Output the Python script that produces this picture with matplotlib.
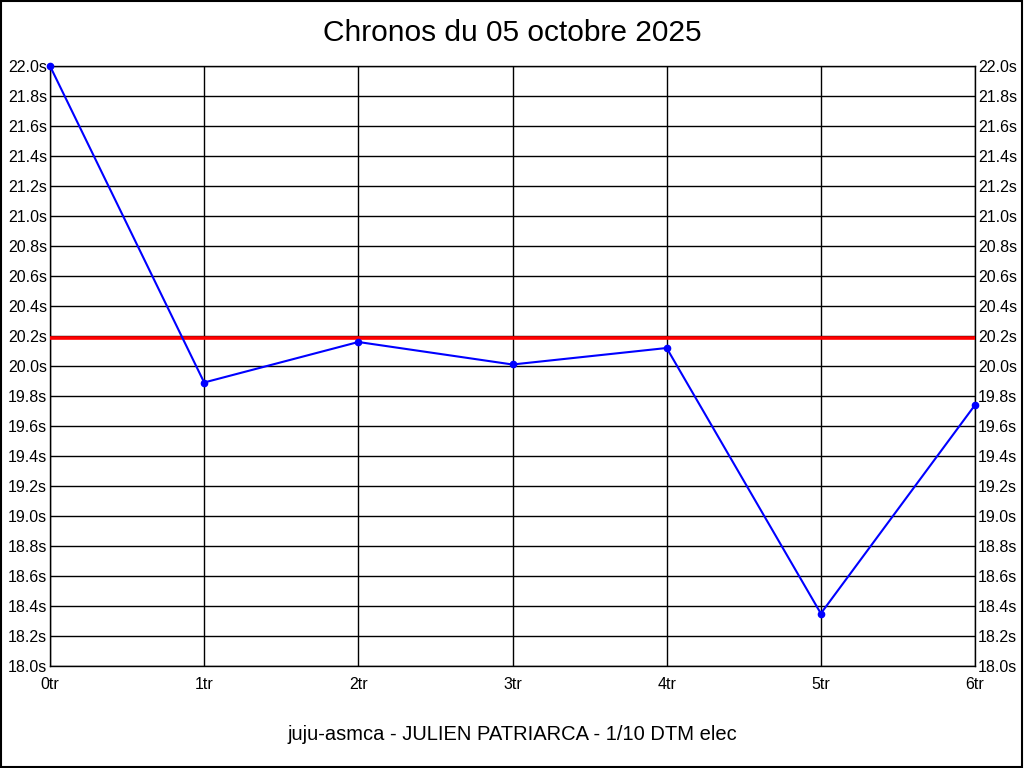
import matplotlib
matplotlib.use("Agg")
import matplotlib.pyplot as plt
from matplotlib.patches import Rectangle

plt.rcParams["font.family"] = ["Liberation Sans", "DejaVu Sans"]

# Donnees
tours = ["0tr", "1tr", "2tr", "3tr", "4tr", "5tr", "6tr"]
chronos = [22.0, 19.89, 20.16, 20.01, 20.12, 18.35, 19.74]
reference = 20.19
graduations = [18.0 + 0.2 * i for i in range(21)]
etiquettes = [f"{v:.1f}s" for v in graduations]

titre = "Chronos du 05 octobre 2025"
pied = "juju-asmca - JULIEN PATRIARCA - 1/10 DTM elec"

fig = plt.figure(figsize=(10.24, 7.68), dpi=100)
fig.patch.set_facecolor("white")
ax = fig.add_axes([50 / 1024, 102 / 768, 925 / 1024, 600 / 768])

x = list(range(len(tours)))
ax.axhline(reference, color="#ff0000", linewidth=2.6, zorder=3)
ax.plot(x, chronos, color="#0000ff", linewidth=1.5, marker="o",
        markersize=4.5, zorder=4, clip_on=False)

ax.set_xlim(0, len(tours) - 1)
ax.set_ylim(18.0, 22.0)
ax.set_xticks(x)
ax.set_xticklabels(tours)
ax.set_yticks(graduations)
ax.set_yticklabels(etiquettes)
ax.grid(True, color="black", linewidth=1)
ax.set_axisbelow(True)
ax.tick_params(axis="both", length=0, labelsize=11.5)
ax.tick_params(axis="y", labelright=True, pad=2)
ax.tick_params(axis="x", pad=8)
for s in ax.spines.values():
    s.set_linewidth(1)

fig.text(0.5, 1 - 33 / 768, titre, ha="center", va="center", fontsize=21.5)
fig.text(0.5, 1 - 735 / 768, pied, ha="center", va="center", fontsize=14.5)

fig.add_artist(Rectangle((0.0005, 0.0007), 0.998, 0.998, transform=fig.transFigure,
                         fill=False, edgecolor="black", linewidth=1.5))

fig.savefig("out.png", dpi=100)
